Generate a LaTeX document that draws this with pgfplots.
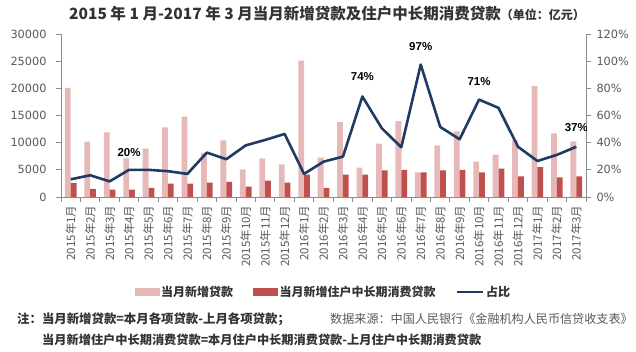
\documentclass[border=0pt]{standalone}
\usepackage{pgfplots}
\usepackage{pgfplotstable}
\pgfplotsset{compat=1.18}
\usepackage{fontspec}
\setmainfont{Noto Sans CJK SC}
\newfontfamily\numfont{DejaVu Sans}
\newfontfamily\labfont{Liberation Sans}
\definecolor{pinkc}{HTML}{E6B9B8}
\definecolor{redc}{HTML}{C0504D}
\definecolor{navyc}{HTML}{1F3B64}
\definecolor{axgray}{HTML}{8C8C8C}
\definecolor{tickgray}{HTML}{595959}
\definecolor{titlec}{HTML}{333333}

\pgfplotstableread{
x light dark pct
1 20100 2600 13
2 10200 1500 16
3 11900 1350 11.5
4 7100 1350 20
5 8900 1700 20
6 12800 2450 19
7 14800 2450 17
8 8100 2650 32.7
9 10400 2800 27.8
10 5100 1900 38
11 7100 3000 42
12 6000 2650 46.4
13 25100 4100 17
14 7250 1700 26
15 13800 4100 29.7
16 5400 4100 74
17 9800 4900 50.6
18 13950 5000 36.6
19 4550 4550 97.5
20 9500 4900 51.6
21 12100 5000 42.5
22 6500 4550 71.7
23 7800 5200 65.6
24 10400 3800 37
25 20400 5500 26.5
26 11700 3600 31
27 10250 3800 37
}\data

\pgfplotsset{
  base/.style={at={(61pt,155pt)}, anchor=south west, scale only axis,
    width=525pt, height=163pt, xmin=0.5, xmax=27.5,
    axis line style={draw=axgray, line width=0.8pt, -},
    tick style={draw=axgray, line width=0.8pt},
    tick align=outside,
    /pgf/number format/1000 sep={},
    /pgf/number format/assume math mode=true},
}

\begin{document}
\begin{tikzpicture}
\useasboundingbox (0,0) rectangle (636pt,352pt);

% bars
\begin{axis}[base,
  ymin=0, ymax=30000,
  axis x line*=bottom, axis y line*=left,
  xtick={0.5,1.5,...,27.5}, xticklabels={},
  ytick={0,5000,...,30000},
  major tick length=5pt,
  scaled y ticks=false,
  yticklabel style={font=\numfont\fontsize{11.3}{12}\selectfont, text=tickgray, xshift=-6pt},
]
\addplot[ybar, bar width=5.8pt, bar shift=-2.9pt, fill=pinkc, draw=none] table[x=x,y=light] {\data};
\addplot[ybar, bar width=5.8pt, bar shift=2.9pt, fill=redc, draw=none] table[x=x,y=dark] {\data};
\end{axis}

% x labels
\begin{axis}[base,
  ymin=0, ymax=1,
  hide y axis,
  axis x line*=bottom,
  x axis line style={draw=none},
  xtick={1,...,27},
  major tick length=0pt,
  tick style={draw=none},
  xticklabel shift=5pt,
  xticklabels={2015年1月,2015年2月,2015年3月,2015年4月,2015年5月,2015年6月,2015年7月,2015年8月,2015年9月,2015年10月,2015年11月,2015年12月,2016年1月,2016年2月,2016年3月,2016年4月,2016年5月,2016年6月,2016年7月,2016年8月,2016年9月,2016年10月,2016年11月,2016年12月,2017年1月,2017年2月,2017年3月},
  xticklabel style={rotate=90, anchor=east, font=\fontsize{11.5}{12}\selectfont, text=tickgray},
]
\addplot[draw=none] coordinates {(1,0)};
\end{axis}

% line
\begin{axis}[base,
  ymin=0, ymax=120,
  axis y line*=right, axis x line=none,
  ytick={0,20,...,120},
  major tick length=5pt,
  yticklabel={\pgfmathprintnumber{\tick}\%},
  yticklabel style={font=\numfont\fontsize{11.3}{12}\selectfont, text=tickgray, xshift=2pt},
  legend style={at={(0.5,-0.583)}, anchor=center, draw=none, fill=none,
    font=\bfseries\fontsize{12}{14}\selectfont, text=titlec,
    legend columns=3, /tikz/every even column/.append style={column sep=18pt}},
  legend cell align=left,
]
\addlegendimage{legend image code/.code={\fill[pinkc] (0pt,-3.5pt) rectangle (24pt,3.5pt);}}
\addlegendentry{当月新增贷款}
\addlegendimage{legend image code/.code={\fill[redc] (0pt,-3.5pt) rectangle (24pt,3.5pt);}}
\addlegendentry{当月新增住户中长期消费贷款}
\addplot[navyc, line width=2.6pt, no markers, line join=round,
  legend image code/.code={\draw[navyc, line width=2.6pt] (0pt,0pt) -- (26pt,0pt);}]
  table[x=x,y=pct] {\data};
\addlegendentry{占比}
\tikzset{pl/.style={font=\labfont\bfseries\fontsize{11.5}{13}\selectfont, text=black, inner sep=0pt}}
\node[pl] at (axis cs:4,33) {20\%};
\node[pl] at (axis cs:16,88.6) {74\%};
\node[pl] at (axis cs:19,111) {97\%};
\node[pl] at (axis cs:22,84.9) {71\%};
\node[pl] at (axis cs:27,51.3) {37\%};
\end{axis}

% title
\node[inner sep=0pt, text=titlec] at (327pt,338pt)
  {{\bfseries\fontsize{15.5}{18}\selectfont 2015 年 1 月-2017 年 3 月当月新增贷款及住户中长期消费贷款}{\bfseries\fontsize{12}{14}\selectfont （单位：亿元）}};

% notes
\node[anchor=west, inner sep=0pt, text=titlec, font=\bfseries\fontsize{12.4}{14}\selectfont] at (17pt,33pt)
  {注：当月新增贷款=本月各项贷款-上月各项贷款；};
\node[anchor=west, inner sep=0pt, text=tickgray, font=\fontsize{12.1}{14}\selectfont] at (330pt,33pt)
  {数据来源：中国人民银行《金融机构人民币信贷收支表》};
\node[anchor=west, inner sep=0pt, text=titlec, font=\bfseries\fontsize{12.2}{14}\selectfont] at (42pt,12pt)
  {当月新增住户中长期消费贷款=本月住户中长期消费贷款-上月住户中长期消费贷款};
\end{tikzpicture}
\end{document}
